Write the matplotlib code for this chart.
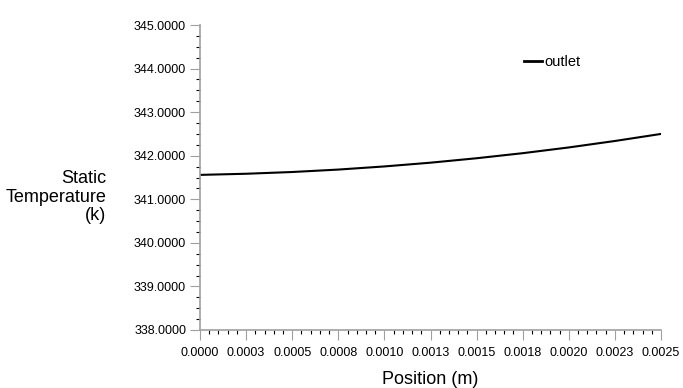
import matplotlib
matplotlib.use("Agg")
import matplotlib.pyplot as plt
from matplotlib.ticker import MultipleLocator, FormatStrFormatter

plt.rcParams['font.family'] = ['Liberation Sans', 'DejaVu Sans']

# outlet static temperature along position
position = [0.0, 0.00025, 0.0005, 0.00075, 0.001, 0.00125,
            0.0015, 0.00175, 0.002, 0.00225, 0.0025]
temperature = [341.560, 341.586, 341.626, 341.682, 341.754, 341.840,
               341.942, 342.058, 342.190, 342.338, 342.500]

fig = plt.figure(figsize=(6.83, 3.88), dpi=100)
ax = fig.add_axes([200/683, 1 - 330/388, 461/683, 305/388])

ax.plot(position, temperature, color='black', lw=1.5)

ax.set_xlim(0, 0.0025)
ax.set_ylim(338, 345)
ax.xaxis.set_major_locator(MultipleLocator(0.00025))
ax.xaxis.set_minor_locator(MultipleLocator(0.00005))
ax.yaxis.set_major_locator(MultipleLocator(1))
ax.yaxis.set_minor_locator(MultipleLocator(0.25))
ax.xaxis.set_major_formatter(FormatStrFormatter('%.4f'))
ax.yaxis.set_major_formatter(FormatStrFormatter('%.4f'))

for s in ['top', 'right']:
    ax.spines[s].set_visible(False)
for s in ['left', 'bottom']:
    ax.spines[s].set_color('#a0a0a0')
    ax.spines[s].set_linewidth(1.2)

ax.tick_params(which='major', length=7, color='#a0a0a0', labelsize=9, pad=3)
ax.tick_params(axis='x', which='major', pad=5)
ax.tick_params(which='minor', length=3, color='black', width=0.8)

ax.set_xlabel('Position (m)', fontsize=13, labelpad=9)
fig.text(106/683, 1 - 197/388, 'Static\nTemperature\n(k)', fontsize=13,
         ha='right', va='center', multialignment='right', linespacing=1.15)

# legend
ax.plot([0.001758, 0.001855], [344.18, 344.18], color='black', lw=2, clip_on=False)
ax.text(0.00187, 344.16, 'outlet', fontsize=10.5, va='center', ha='left')

fig.savefig('out.png', dpi=100)
